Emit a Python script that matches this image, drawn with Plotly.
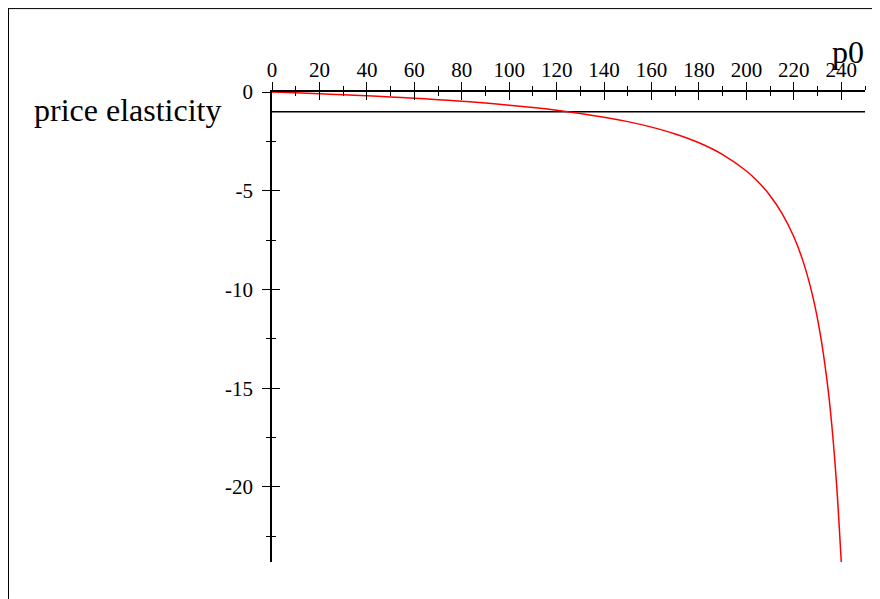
import plotly.graph_objects as go

# Data
p0 = [0, 10, 20, 30, 40, 50, 60, 70, 80, 90, 100, 110, 120, 130, 140, 150,
      160, 170, 180, 190, 200, 205, 210, 215, 220, 224, 228, 231, 234, 236,
      238, 239, 240]
elasticity = [0.0, -0.042, -0.087, -0.136, -0.19, -0.25, -0.316, -0.389, -0.47,
              -0.563, -0.667, -0.786, -0.923, -1.083, -1.273, -1.5, -1.778,
              -2.125, -2.571, -3.167, -4.0, -4.556, -5.25, -6.143, -7.333,
              -8.615, -10.36, -12.16, -14.63, -16.86, -19.83, -21.73, -23.8]
ref_x = [0, 250]
ref_y = [-1, -1]

x_ticks = [0, 20, 40, 60, 80, 100, 120, 140, 160, 180, 200, 220, 240]
y_ticks = [0, -5, -10, -15, -20]
y_tick_text = ["0", "-5", "-10", "-15", "-20"]

# the page body has an 8px margin, so the figure is drawn at (8, 8)
OFF = 8
W, H = 880 - OFF, 599 - OFF
L, R, T, B = 272 - OFF, 865 - OFF, 91.5 - OFF, 562.0 - OFF


def px(x):
    return (x - OFF - L) / (R - L)


def py(y):
    return (B - (y - OFF)) / (B - T)


FONT = "Liberation Serif, Times New Roman, serif"

fig = go.Figure()
fig.add_trace(go.Scatter(x=ref_x, y=ref_y, mode="lines",
                         line=dict(color="black", width=1.5),
                         hoverinfo="skip", showlegend=False))
fig.add_trace(go.Scatter(x=p0, y=elasticity, mode="lines",
                         line=dict(color="#ff0000", width=1.5, shape="spline"),
                         showlegend=False))
# invisible trace to activate overlay axes
fig.add_trace(go.Scatter(x=[0], y=[0], xaxis="x2", yaxis="y2", mode="markers",
                         marker=dict(opacity=0), hoverinfo="skip",
                         showlegend=False))

axis_common = dict(showgrid=False, zeroline=False, linecolor="black",
                   tickcolor="black", tickwidth=1.3)

fig.update_layout(
    width=W, height=H,
    margin=dict(l=L, r=W - R, t=T, b=H - B, pad=0),
    paper_bgcolor="white", plot_bgcolor="white",
    font=dict(family=FONT, size=21, color="black"),
    xaxis=dict(**axis_common, range=[0, 250], side="top", showline=True,
               linewidth=1.5, tickmode="array", tickvals=x_ticks,
               ticks="outside", ticklen=8, ticklabelstandoff=-3,
               minor=dict(dtick=10, tick0=0, ticks="outside", ticklen=4,
                          tickcolor="black", tickwidth=1.3),
               tickfont=dict(family=FONT, size=21)),
    yaxis=dict(**axis_common, range=[-23.8, 0], side="left", showline=True,
               linewidth=1.5, tickmode="array", tickvals=y_ticks,
               ticktext=y_tick_text, ticks="outside", ticklen=8,
               ticklabelstandoff=5,
               minor=dict(dtick=2.5, tick0=0, ticks="outside", ticklen=4,
                          tickcolor="black", tickwidth=1.3),
               tickfont=dict(family=FONT, size=21)),
    xaxis2=dict(**axis_common, range=[0, 250], overlaying="x", side="top",
                showline=False, tickmode="array", tickvals=x_ticks,
                ticks="inside", ticklen=8, showticklabels=False,
                minor=dict(dtick=10, tick0=0, ticks="inside", ticklen=4,
                           tickcolor="black", tickwidth=1.3)),
    yaxis2=dict(**axis_common, range=[-23.8, 0], overlaying="y", side="left",
                showline=False, tickmode="array", tickvals=y_ticks,
                ticks="inside", ticklen=8, showticklabels=False,
                minor=dict(dtick=2.5, tick0=0, ticks="inside", ticklen=4,
                           tickcolor="black", tickwidth=1.3)),
    annotations=[
        dict(text="price elasticity", xref="paper", yref="paper",
             x=px(32), y=py(110), xanchor="left", yanchor="middle",
             showarrow=False, font=dict(family=FONT, size=32)),
        dict(text="p0", xref="paper", yref="paper",
             x=px(866), y=py(51), xanchor="right", yanchor="middle",
             showarrow=False, font=dict(family=FONT, size=32)),
    ],
    shapes=[
        dict(type="line", xref="paper", yref="paper",
             x0=px(8), y0=py(8), x1=px(880), y1=py(8),
             line=dict(color="black", width=1)),
        dict(type="line", xref="paper", yref="paper",
             x0=px(8.5), y0=py(8), x1=px(8.5), y1=py(599),
             line=dict(color="black", width=1)),
    ],
)

fig.write_html("out.html")
